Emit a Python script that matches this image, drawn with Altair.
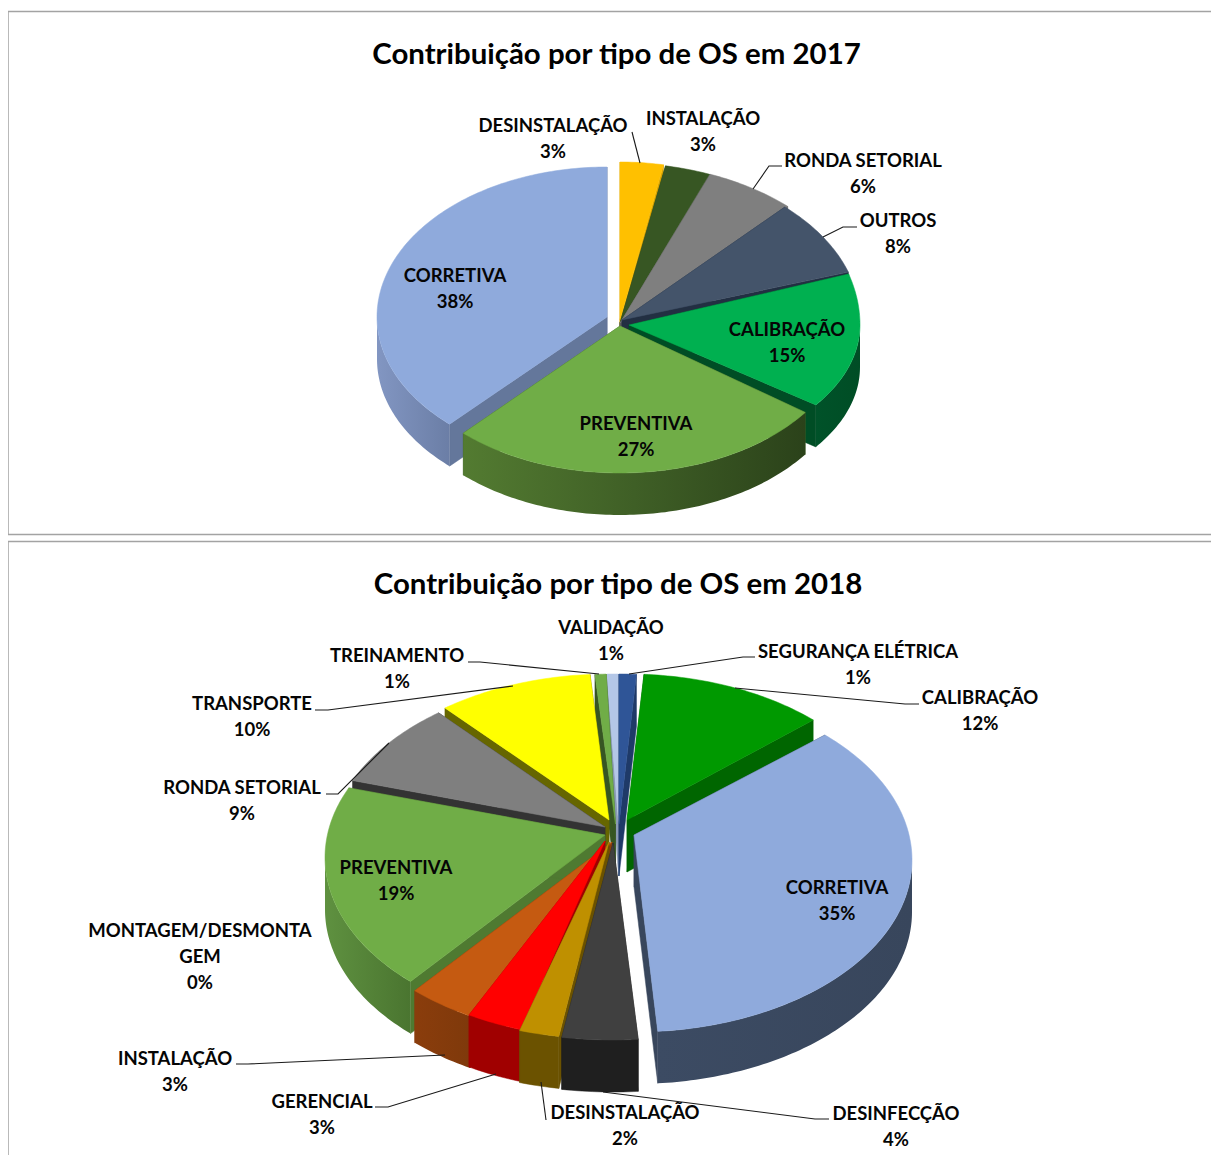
import math
import altair as alt

# ---- values ----
names_2017 = ["DESINSTALAÇÃO", "INSTALAÇÃO", "RONDA SETORIAL", "OUTROS", "CALIBRAÇÃO", "PREVENTIVA", "CORRETIVA"]
values_2017 = [3, 3, 6, 8, 15, 27, 38]
colors_2017 = ["#ffc000", "#375623", "#7f7f7f", "#44546a", "#00b050", "#70ad47", "#8faadc"]
edges_2017 = ["#d9a300", "#2c4a1c", "#595959", "#222f42", "#004d25", "#3f6327", "#64779b"]

names_2018 = ["SEGURANÇA ELÉTRICA", "CALIBRAÇÃO", "CORRETIVA", "DESINFECÇÃO", "DESINSTALAÇÃO", "GERENCIAL",
              "INSTALAÇÃO", "MONTAGEM/DESMONTA\nGEM", "PREVENTIVA", "RONDA SETORIAL", "TRANSPORTE", "TREINAMENTO", "VALIDAÇÃO"]
values_2018 = [1, 12, 35, 4, 2, 3, 3, 0, 19, 9, 10, 1, 1]
colors_2018 = ["#2f5597", "#009900", "#8faadc", "#404040", "#bf9000", "#ff0000", "#c55a11", "#a5a5a5",
               "#70ad47", "#7f7f7f", "#ffff00", "#70ad47", "#b4c7e7"]
edges_2018 = ["#1f3a68", "#006600", "#38465c", "#1f1f1f", "#6b5200", "#a00000", "#8a3d0c", "#666666",
              "#4f7a31", "#333333", "#666600", "#375623", "#8a9ab5"]
titles = ["Contribuição por tipo de OS em 2017", "Contribuição por tipo de OS em 2018"]

FONT = "Lato"
DEPTH_2017, DEPTH_2018 = 42, 52

# ---- layout: apex x, apex y, rx, back ry, front ry for each slice ----
geom_2017 = {
    "DESINSTALAÇÃO": (620, 320, 232, 158, 146), "INSTALAÇÃO": (620, 323, 243, 160, 146),
    "RONDA SETORIAL": (620, 323, 245, 160, 146), "OUTROS": (622, 320, 238, 155, 146),
    "CALIBRAÇÃO": (629, 325, 231, 165, 136), "PREVENTIVA": (620, 326, 229, 150, 147),
    "CORRETIVA": (607, 317, 230, 150, 147),
}
geom_2018 = {
    "SEGURANÇA ELÉTRICA": (619, 824, 278, 150, 195), "CALIBRAÇÃO": (627, 820, 271, 146, 190),
    "CORRETIVA": (634, 835, 278, 147, 197), "DESINFECÇÃO": (613, 843, 295, 147, 197),
    "DESINSTALAÇÃO": (609, 842, 289, 147, 197), "GERENCIAL": (605, 841, 272, 147, 197),
    "INSTALAÇÃO": (612, 842, 284, 147, 197), "MONTAGEM/DESMONTA\nGEM": (612, 838, 290, 147, 197),
    "PREVENTIVA": (605, 835, 280, 150, 195), "RONDA SETORIAL": (605, 827, 276, 149, 195),
    "TRANSPORTE": (609, 820, 272, 146, 190), "TREINAMENTO": (615.5, 824, 295, 150, 195),
    "VALIDAÇÃO": (618.6, 824, 370, 150, 195),
}
# the tilted view shifts where a share meets the rim: (share angle, shift in degrees)
warp_2017 = [(0, 0), (360, 0)]
warp_2018 = [(0, 0), (3.6, 0), (46.8, -3.4), (172.8, 2.3), (187.2, 2.8), (194.4, 3.6), (205.2, 4.8), (216, 8),
             (284.4, 9.4), (316.8, 6.1), (352.8, 3.2), (356.4, 1.8), (360, 0)]
order_2017 = ["DESINSTALAÇÃO", "INSTALAÇÃO", "RONDA SETORIAL", "OUTROS", "CORRETIVA", "CALIBRAÇÃO", "PREVENTIVA"]
order_2018 = ["VALIDAÇÃO", "SEGURANÇA ELÉTRICA", "TREINAMENTO", "TRANSPORTE", "RONDA SETORIAL", "CALIBRAÇÃO",
              "CORRETIVA", "PREVENTIVA", "INSTALAÇÃO", "GERENCIAL", "DESINSTALAÇÃO", "DESINFECÇÃO"]
grad_2017 = {"CORRETIVA": ["#8296c2", "#6b7ea6"], "PREVENTIVA": ["#537b31", "#3f5f26", "#2b421a"],
             "CALIBRAÇÃO": ["#005229", "#004d25"]}
grad_2018 = {"CORRETIVA": ["#3c4b63", "#38465c"], "PREVENTIVA": ["#5f9140", "#4a7530"],
             "INSTALAÇÃO": ["#8a3d0c", "#7f390b"]}

labels_2017 = {"DESINSTALAÇÃO": (553, 126), "INSTALAÇÃO": (703, 119), "RONDA SETORIAL": (863, 161), "OUTROS": (898, 221),
               "CALIBRAÇÃO": (787, 330), "PREVENTIVA": (636, 424), "CORRETIVA": (455, 276)}
labels_2018 = {"VALIDAÇÃO": (611, 628), "SEGURANÇA ELÉTRICA": (858, 652), "CALIBRAÇÃO": (980, 698), "CORRETIVA": (837, 888),
               "DESINFECÇÃO": (896, 1114), "DESINSTALAÇÃO": (625, 1113), "GERENCIAL": (322, 1102), "INSTALAÇÃO": (175, 1059),
               "MONTAGEM/DESMONTA\nGEM": (200, 931), "PREVENTIVA": (396, 868), "RONDA SETORIAL": (242, 788),
               "TRANSPORTE": (252, 704), "TREINAMENTO": (397, 656)}
leaders_2017 = [[(632, 132), (640, 163)], [(782, 166), (769, 166), (753, 189)], [(857, 227), (843, 227), (823, 237)]]
leaders_2018 = [[(468, 662), (480, 662), (599, 674)], [(755, 657), (743, 657), (629, 674)],
                [(919, 704), (905, 704), (735, 688)], [(315, 710), (328, 710), (513, 686)],
                [(326, 794), (338, 794), (389, 743)], [(236, 1064), (248, 1064), (445, 1055)],
                [(375, 1107), (388, 1107), (496, 1074)], [(541, 1082), (546, 1120)],
                [(829, 1119), (815, 1119), (603, 1092)]]
frames = [[(1211, 11.5), (8, 11.5), (8, 534.5), (1211, 534.5)], [(1211, 541.5), (8, 541.5), (8, 1155)]]
page = [(8, 8), (1211, 8), (1211, 1155), (8, 1155), (8, 8)]

PROJ = dict(type="identity", scale=1, translate=[-8, -8])


def warped(table, a):
    for (a0, s0), (a1, s1) in zip(table, table[1:]):
        if a0 <= a <= a1:
            return a + s0 + (s1 - s0) * (a - a0) / (a1 - a0)
    return a


def rim(g, deg, true_ellipse):
    t = math.radians(deg)
    c = math.cos(t)
    if true_ellipse:
        y = g[1] + (g[4] - g[3]) / 2 - (g[4] + g[3]) / 2 * c
    else:
        y = g[1] - (g[3] if c > 0 else g[4]) * c
    return (g[0] + g[2] * math.sin(t), y)


def feature(ring):
    return {"type": "Feature", "properties": {},
            "geometry": {"type": "Polygon", "coordinates": [[list(p) for p in ring]]}}


def polyline(points):
    return {"type": "Feature", "properties": {},
            "geometry": {"type": "LineString", "coordinates": [list(p) for p in points]}}


def pie_layers(names, values, colors, edges, geom, order, grads, labels, leaders, depth, warp, true_ellipse):
    layers = []
    spans, cum = {}, 0
    for n, v in zip(names, values):
        spans[n] = (warped(warp, cum * 3.6), warped(warp, (cum + v) * 3.6))
        cum += v
    fill = dict(zip(names, colors))
    edge = dict(zip(names, edges))
    for n in order:
        a0, a1 = spans[n]
        g = geom[n]
        apex = (g[0], g[1])
        steps = max(2, int(a1 - a0) + 1)
        pts = [rim(g, a0 + (a1 - a0) * i / steps, true_ellipse) for i in range(steps + 1)]
        radial = [feature([apex, c, (c[0], c[1] + depth), (apex[0], apex[1] + depth), apex])
                  for c in (pts[0], pts[-1])]
        layers.append(alt.Chart(alt.Data(values=radial)).mark_geoshape(
            fill=edge[n], stroke=edge[n], strokeWidth=0.5).project(**PROJ))
        lo, hi = max(a0, 90), min(a1, 270)
        if hi > lo:
            k = max(2, int(hi - lo) + 1)
            front = [rim(g, lo + (hi - lo) * i / k, true_ellipse) for i in range(k + 1)]
            ring = front + [(x, y + depth) for x, y in reversed(front)] + [front[0]]
            if n in grads:
                st = grads[n]
                stops = [alt.GradientStop(color=c, offset=i / (len(st) - 1)) for i, c in enumerate(st)]
                mk = dict(fill=alt.Gradient(gradient="linear", stops=stops, x1=0, x2=1, y1=0, y2=0))
            else:
                mk = dict(fill=edge[n], stroke=edge[n], strokeWidth=0.5)
            layers.append(alt.Chart(alt.Data(values=[feature(ring)])).mark_geoshape(**mk).project(**PROJ))
        layers.append(alt.Chart(alt.Data(values=[feature([apex] + pts + [apex])])).mark_geoshape(
            fill=fill[n], stroke=fill[n], strokeWidth=0.5).project(**PROJ))
    layers.append(alt.Chart(alt.Data(values=[polyline(l) for l in leaders])).mark_geoshape(
        filled=False, stroke="#1a1a1a", strokeWidth=1.1).project(**PROJ))
    rows = [{"label": f"{n}\n{v}%", "x": labels[n][0], "y": labels[n][1]} for n, v in zip(names, values)]
    layers.append(alt.Chart(alt.Data(values=rows)).mark_text(
        font=FONT, fontWeight="bold", fontSize=18.5, color="#050505", lineBreak="\n", lineHeight=26,
        align="center", baseline="middle").encode(
        longitude="x:Q", latitude="y:Q", text="label:N").project(**PROJ))
    return layers


# a clear sheet the size of the page, so the identity projection keeps page pixels
sheet_layer = alt.Chart(alt.Data(values=[feature(page)])).mark_geoshape(
    fill="#ffffff", fillOpacity=0, strokeOpacity=0).project(**PROJ)
frame_layer = alt.Chart(alt.Data(values=[polyline(f) for f in frames])).mark_geoshape(
    filled=False, stroke="#a3a3a3", strokeWidth=1.5).project(**PROJ)
title_layer = alt.Chart(alt.Data(values=[{"label": titles[0], "x": 616.5, "y": 55}, {"label": titles[1], "x": 618, "y": 585}])).mark_text(
    font=FONT, fontWeight="bold", fontSize=29.4, color="#000000", align="center", baseline="middle").encode(
    longitude="x:Q", latitude="y:Q", text="label:N").project(**PROJ)

layers = [sheet_layer, frame_layer, title_layer]
layers += pie_layers(names_2017, values_2017, colors_2017, edges_2017, geom_2017, order_2017, grad_2017,
                     labels_2017, leaders_2017, DEPTH_2017, warp_2017, False)
layers += pie_layers(names_2018, values_2018, colors_2018, edges_2018, geom_2018, order_2018, grad_2018,
                     labels_2018, leaders_2018, DEPTH_2018, warp_2018, True)

chart = alt.layer(*layers).properties(
    width=1203, height=1147, padding=0, autosize=alt.AutoSizeParams(type="none")
).configure_view(stroke=None)

chart.save("out.html", embed_options={"renderer": "svg", "actions": False})
